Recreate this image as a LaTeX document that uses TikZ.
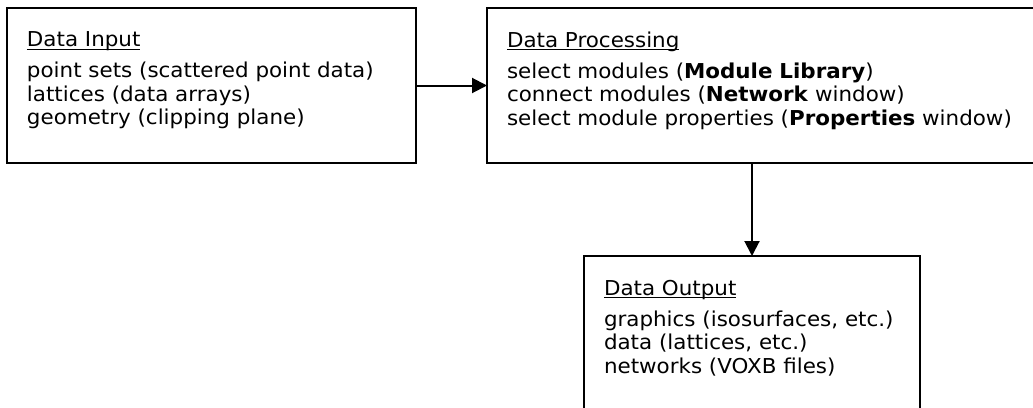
\documentclass[tikz,border=0pt]{standalone}
\usepackage{fontspec}
\setmainfont[FakeStretch=1.045]{DejaVu Sans}
\usetikzlibrary{arrows.meta}
\newcommand{\headline}[1]{\setbox0\hbox{#1}\rlap{\rule[-3pt]{\wd0}{1.4pt}}\box0}
\newcommand{\bottomgap}{\rule[-14pt]{0pt}{0pt}}

\begin{document}
\begin{tikzpicture}[x=1pt,y=-1pt,
	stage/.style={draw,line width=2pt,anchor=north west,outer sep=0pt,inner xsep=20pt,inner ysep=0pt,align=left,minimum height=155pt,font=\fontsize{20.5}{23.5}\selectfont},
	flow/.style={-{Triangle[length=15pt,width=15pt]},line width=2pt}]

	\useasboundingbox (0,0) rectangle (1033,407);
	\clip (0,0) rectangle (1033,407);

	\node[stage,text width=369pt] (input) at (7,8){\headline{Data Input}\\[7.5pt]
		point sets (scattered point data)\\
		lattices (data arrays)\\
		geometry (clipping plane)\bottomgap};
	\node[stage,text width=513pt] (proc) at (487,8){\headline{Data Processing}\\[7.5pt]
		select modules (\textbf{Module Library})\\
		connect modules (\textbf{Network} window)\\
		select module properties (\textbf{Properties} window)\bottomgap};
	\node[stage,text width=296pt] (out) at (584,256){\headline{Data Output}\\[7.5pt]
		graphics (isosurfaces, etc.)\\
		data (lattices, etc.)\\
		networks (VOXB files)\bottomgap};

	\draw[flow] (input.east) to (proc.west);
	\draw[flow] (proc.south -| out.north) to (out.north);

\end{tikzpicture}
\end{document}
